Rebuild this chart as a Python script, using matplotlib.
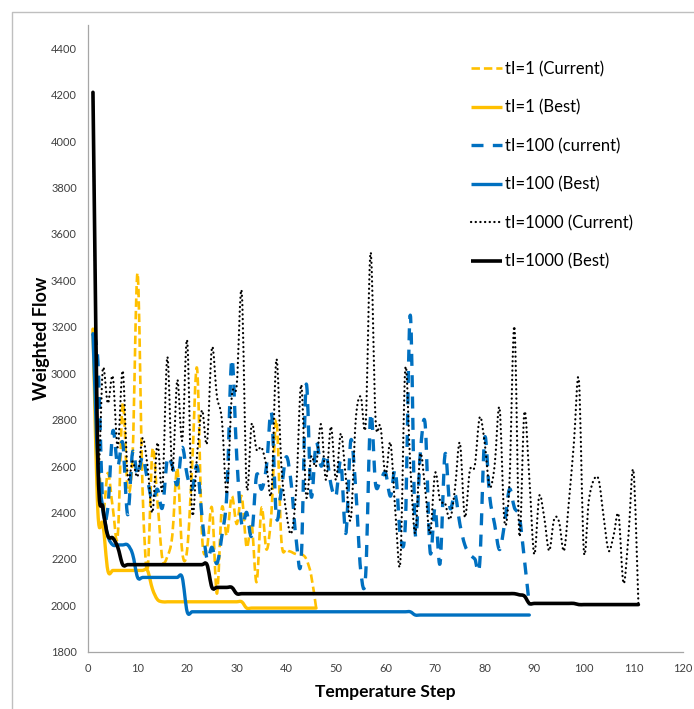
import numpy as np
import matplotlib
matplotlib.use("Agg")
import matplotlib.pyplot as plt
from matplotlib.path import Path
from matplotlib.patches import PathPatch
from matplotlib.lines import Line2D

plt.rcParams['font.family'] = ['Lato', 'DejaVu Sans']

# tI=1
cur_1 = [3190, 2700, 2400, 2570, 2420, 2300, 2870, 2500, 2650, 3430,
         2500, 2150, 2670, 2450, 2200, 2210, 2300, 2590, 2230, 2240,
         2600, 3020, 2300, 2250, 2420, 2050, 2420, 2300, 2470, 2350,
         2470, 2250, 2350, 2100, 2420, 2240, 2400, 2800, 2280, 2240,
         2230, 2220, 2220, 2200, 2130, 1990]
best_1 = [3190, 2400, 2350, 2150, 2150, 2150, 2150, 2150, 2150, 2150,
          2150, 2150, 2070, 2025, 2015, 2015, 2015, 2015, 2015, 2015,
          2015, 2015, 2015, 2015, 2015, 2015, 2015, 2015, 2015, 2015,
          2015, 1988, 1988, 1988, 1988, 1988, 1988, 1988, 1988, 1988,
          1988, 1988, 1988, 1988, 1988, 1988]

# tI=100
cur_100 = [3170, 3050, 2420, 2420, 2750, 2600, 2700, 2390, 2660, 2560,
           2640, 2540, 2450, 2500, 2420, 2630, 2600, 2520, 2680, 2560,
           2500, 2600, 2380, 2200, 2250, 2180, 2300, 2480, 3060, 2640,
           2350, 2400, 2300, 2560, 2500, 2600, 2830, 2380, 2500, 2640,
           2520, 2280, 2200, 2950, 2470, 2700, 2600, 2650, 2520, 2470,
           2620, 2310, 2710, 2500, 2150, 2130, 2820, 2520, 2540, 2570,
           2470, 2580, 2300, 2350, 3250, 2310, 2650, 2780, 2230, 2420,
           2180, 2650, 2420, 2480, 2350, 2260, 2220, 2200, 2180, 2720,
           2470, 2350, 2240, 2350, 2500, 2420, 2380, 2200, 2000]
best_100 = [3170, 2600, 2420, 2300, 2260, 2260, 2260, 2260, 2220, 2120,
            2120, 2120, 2120, 2120, 2120, 2120, 2120, 2120, 2120, 1972,
            1972, 1972, 1972, 1972, 1972, 1972, 1972, 1972, 1972, 1972,
            1972, 1972, 1972, 1972, 1972, 1972, 1972, 1972, 1972, 1972,
            1972, 1972, 1972, 1972, 1972, 1972, 1972, 1972, 1972, 1972,
            1972, 1972, 1972, 1972, 1972, 1972, 1972, 1972, 1972, 1972,
            1972, 1972, 1972, 1972, 1972, 1958, 1958, 1958, 1958, 1958,
            1958, 1958, 1958, 1958, 1958, 1958, 1958, 1958, 1958, 1958,
            1958, 1958, 1958, 1958, 1958, 1958, 1958, 1958, 1958]

# tI=1000
cur_1000 = [4210, 2650, 3020, 2870, 2985, 2680, 3010, 2560, 2620, 2555,
            2720, 2600, 2400, 2700, 2500, 3070, 2580, 2970, 2710, 3140,
            2400, 2650, 2840, 2700, 3110, 2900, 2800, 2480, 2900, 2950,
            3350, 2510, 2780, 2670, 2680, 2600, 2490, 3060, 2600, 2400,
            2310, 2500, 2950, 2470, 2640, 2600, 2780, 2540, 2770, 2540,
            2740, 2550, 2370, 2800, 2900, 2780, 3520, 2800, 2770, 2560,
            2700, 2400, 2190, 3020, 2600, 2310, 2650, 2500, 2310, 2570,
            2450, 2440, 2370, 2500, 2700, 2380, 2580, 2600, 2810, 2700,
            2510, 2600, 2850, 2360, 2530, 3200, 2300, 2830, 2550, 2220,
            2470, 2380, 2235, 2370, 2360, 2235, 2450, 2700, 2970, 2235,
            2450, 2540, 2540, 2380, 2235, 2300, 2390, 2095, 2300, 2580,
            2010]
best_1000 = [4210, 2620, 2420, 2300, 2290, 2250, 2175, 2175, 2175, 2175,
             2175, 2175, 2175, 2175, 2175, 2175, 2175, 2175, 2175, 2175,
             2175, 2175, 2175, 2175, 2077, 2077, 2077, 2077, 2077, 2050,
             2050, 2050, 2050, 2050, 2050, 2050, 2050, 2050, 2050, 2050,
             2050, 2050, 2050, 2050, 2050, 2050, 2050, 2050, 2050, 2050,
             2050, 2050, 2050, 2050, 2050, 2050, 2050, 2050, 2050, 2050,
             2050, 2050, 2050, 2050, 2050, 2050, 2050, 2050, 2050, 2050,
             2050, 2050, 2050, 2050, 2050, 2050, 2050, 2050, 2050, 2050,
             2050, 2050, 2050, 2050, 2050, 2050, 2045, 2040, 2008, 2008,
             2008, 2008, 2008, 2008, 2008, 2008, 2008, 2008, 2003, 2003,
             2003, 2003, 2003, 2003, 2003, 2003, 2003, 2003, 2003, 2003,
             2003]

YELLOW = '#FFC000'
BLUE = '#0070C0'
BLACK = '#000000'


def smooth_path(ys):
    # excel style smoothed line: bezier through each point
    p = np.column_stack([np.arange(1, len(ys) + 1), ys]).astype(float)
    verts = [p[0]]
    codes = [Path.MOVETO]
    n = len(p)
    for i in range(n - 1):
        p0 = p[max(i - 1, 0)]
        p1 = p[i]
        p2 = p[i + 1]
        p3 = p[min(i + 2, n - 1)]
        c1 = p1 + (p2 - p0) / 6.0
        c2 = p2 - (p3 - p1) / 6.0
        verts += [c1, c2, p2]
        codes += [Path.CURVE4] * 3
    return Path(verts, codes)


series = [
    (cur_1, YELLOW, 1.9, (0, (3.2, 1.5)), 'butt', 'tI=1 (Current)'),
    (best_1, YELLOW, 2.4, '-', 'round', 'tI=1 (Best)'),
    (cur_100, BLUE, 2.4, (0, (3.6, 2.8)), 'butt', 'tI=100 (current)'),
    (best_100, BLUE, 2.4, '-', 'round', 'tI=100 (Best)'),
    (cur_1000, BLACK, 1.6, (0, (0.1, 2.0)), 'round', 'tI=1000 (Current)'),
    (best_1000, BLACK, 2.6, '-', 'round', 'tI=1000 (Best)'),
]

fig = plt.figure(figsize=(6.94, 7.09), dpi=100)
ax = fig.add_axes([88 / 694, 1 - 651.7 / 709, (683 - 88) / 694, (651.7 - 25) / 709])

handles = []
for ys, col, lw, ls, cap, lab in series:
    patch = PathPatch(smooth_path(ys), fill=False, edgecolor=col, linewidth=lw,
                      linestyle=ls, capstyle=cap, joinstyle='round')
    ax.add_patch(patch)
    h = Line2D([], [], color=col, linewidth=lw, linestyle=ls,
               dash_capstyle=cap, solid_capstyle='butt')
    handles.append((h, lab))

ax.set_xlim(0, 120)
ax.set_ylim(1800, 4500)
ax.set_xticks(np.arange(0, 121, 10))
ax.set_yticks(np.arange(1800, 4401, 200))
ax.tick_params(length=0, labelsize=8, labelcolor='#404040', pad=8)
for s in ['top', 'right']:
    ax.spines[s].set_visible(False)
for s in ['left', 'bottom']:
    ax.spines[s].set_color('#A6A6A6')
    ax.spines[s].set_linewidth(0.9)

ax.set_xlabel('Temperature Step', fontsize=12.5, fontweight='bold', labelpad=7)
ax.set_ylabel('Weighted Flow', fontsize=13, fontweight='bold', labelpad=1)

ax.legend([h for h, _ in handles], [l for _, l in handles], frameon=False,
          fontsize=12, handlelength=1.85, handletextpad=0.2, labelspacing=1.34,
          loc='upper left', bbox_to_anchor=(471 / 694, 1 - 61 / 709),
          bbox_transform=fig.transFigure, borderaxespad=0, borderpad=0)

# chart area border
fig.add_artist(Line2D([11.5 / 694, 11.5 / 694, 1.0], [0.0, 1 - 11.5 / 709, 1 - 11.5 / 709],
                      transform=fig.transFigure, color='#BFBFBF', linewidth=1.0))

fig.savefig('out.png', dpi=100)
